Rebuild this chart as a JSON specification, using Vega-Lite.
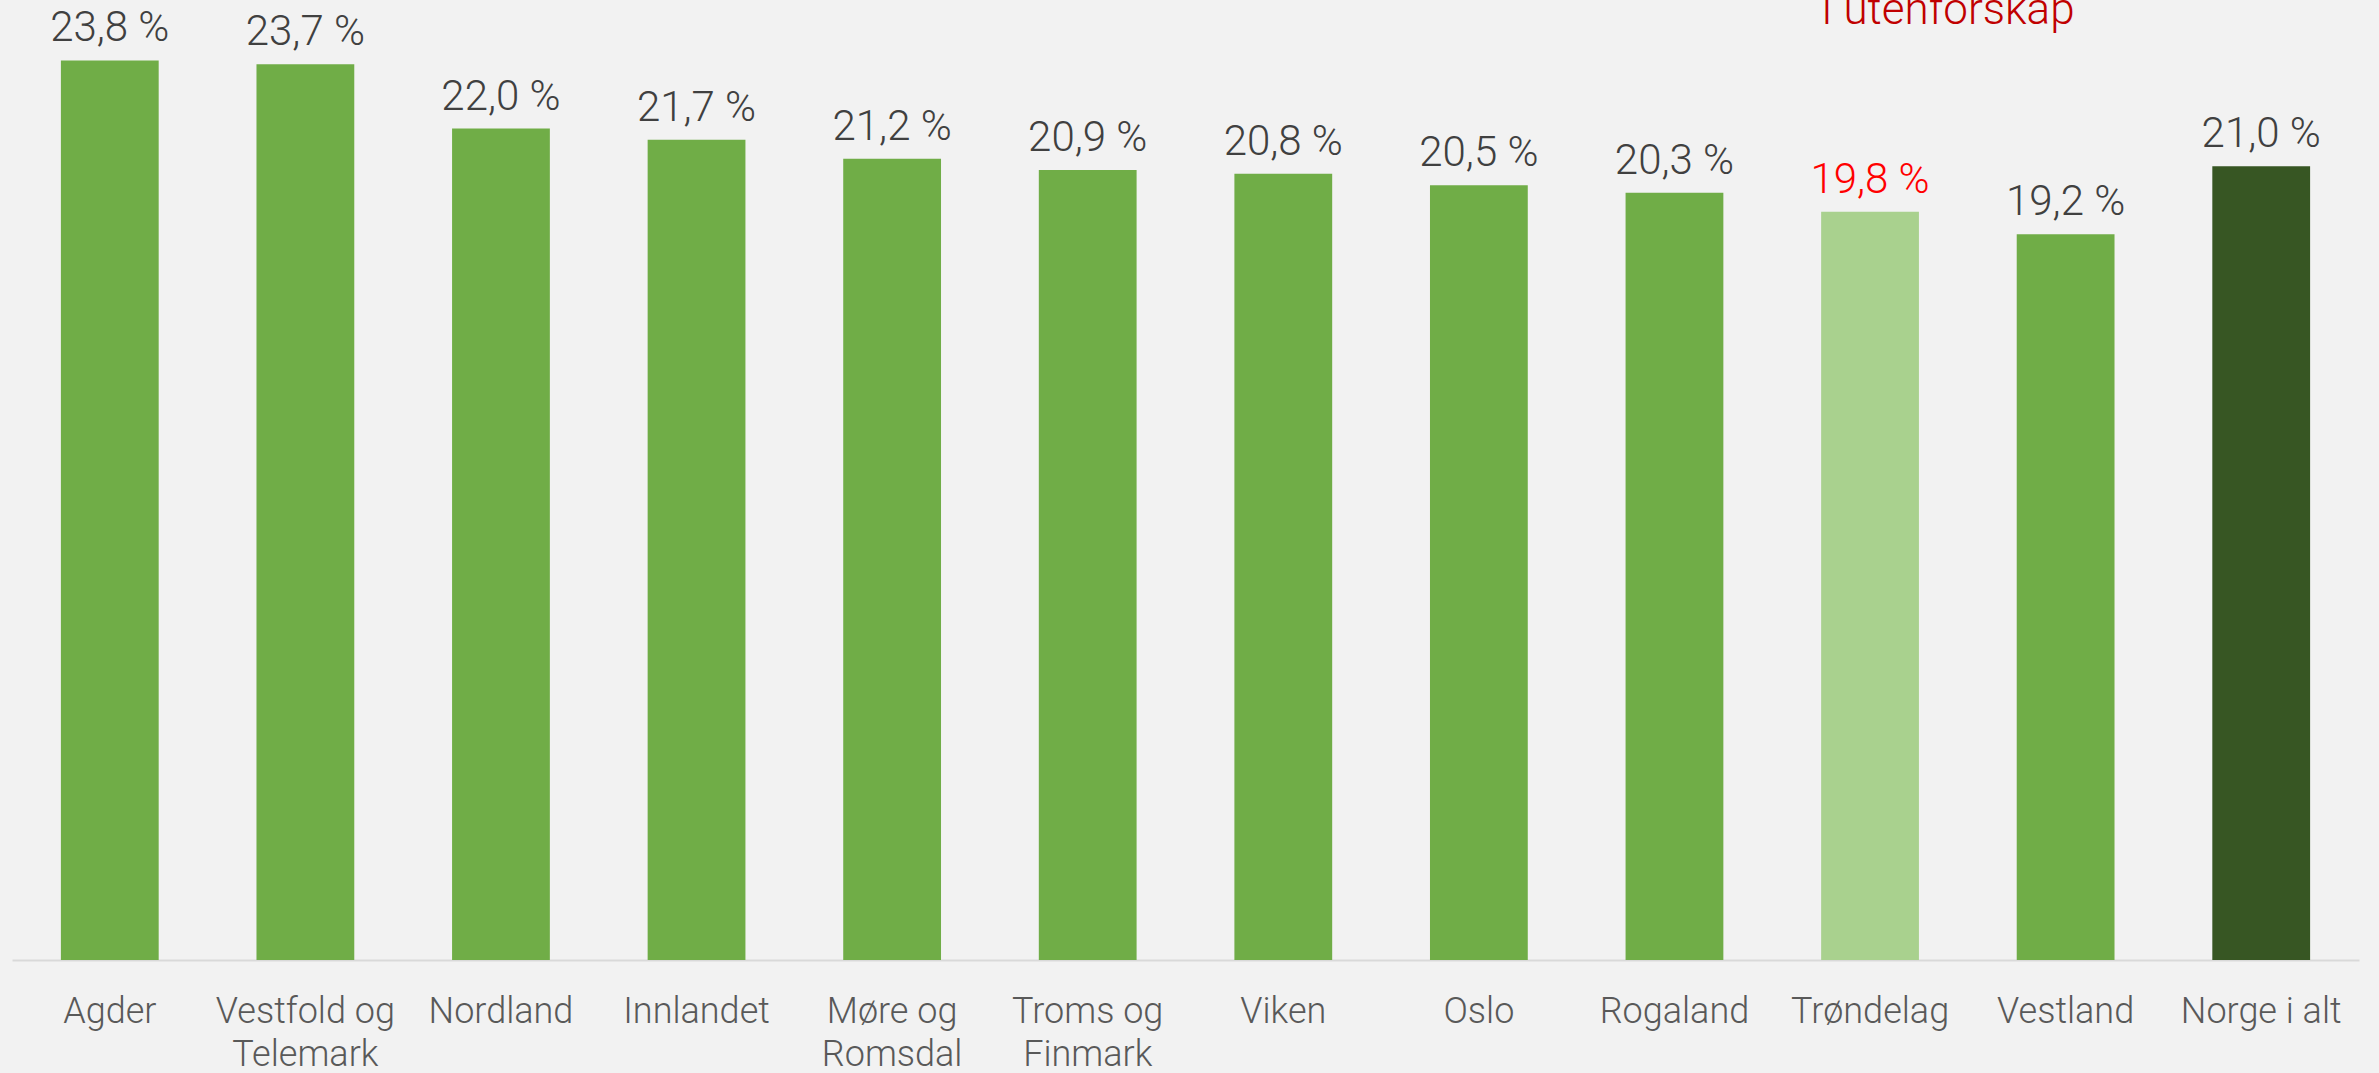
{
  "$schema": "https://vega.github.io/schema/vega-lite/v6.json",
  "width": 2347,
  "height": 960,
  "autosize": {"type": "none"},
  "padding": {"left": 12, "top": 0, "right": 20, "bottom": 113},
  "background": "#F2F2F2",
  "config": {"view": {"stroke": null}, "font": "Roboto"},
  "data": {
    "values": [
      {"region": "Agder", "value": 23.8},
      {"region": "Vestfold og Telemark", "value": 23.7},
      {"region": "Nordland", "value": 22.0},
      {"region": "Innlandet", "value": 21.7},
      {"region": "Møre og Romsdal", "value": 21.2},
      {"region": "Troms og Finmark", "value": 20.9},
      {"region": "Viken", "value": 20.8},
      {"region": "Oslo", "value": 20.5},
      {"region": "Rogaland", "value": 20.3},
      {"region": "Trøndelag", "value": 19.8},
      {"region": "Vestland", "value": 19.2},
      {"region": "Norge i alt", "value": 21.0}
    ]
  },
  "encoding": {
    "x": {
      "field": "region",
      "type": "nominal",
      "sort": null,
      "scale": {"paddingInner": 0.5, "paddingOuter": 0.25},
      "axis": {
        "title": null,
        "labelAngle": 0,
        "labelFont": "Roboto",
        "labelFontSize": 36,
        "labelFontWeight": 300,
        "labelColor": "#595959",
        "labelPadding": 34,
        "labelLineHeight": 43,
        "labelLimit": 0,
        "labelOverlap": false,
        "ticks": false,
        "tickSize": 0,
        "domainColor": "#D9D9D9",
        "domainWidth": 2,
        "labelExpr": "datum.label == 'Vestfold og Telemark' ? ['Vestfold og', 'Telemark'] : datum.label == 'Møre og Romsdal' ? ['Møre og', 'Romsdal'] : datum.label == 'Troms og Finmark' ? ['Troms og', 'Finmark'] : datum.label"
      }
    }
  },
  "layer": [
    {
      "mark": {"type": "bar"},
      "encoding": {
        "y": {"field": "value", "type": "quantitative", "scale": {"domain": [0, 25.4], "nice": false}, "axis": null},
        "color": {
          "condition": [
            {"test": "datum.region === 'Trøndelag'", "value": "#A9D18E"},
            {"test": "datum.region === 'Norge i alt'", "value": "#375623"}
          ],
          "value": "#70AD47"
        }
      }
    },
    {
      "transform": [
        {"calculate": "replace(format(datum.value, '.1f'), '.', ',') + ' %'", "as": "label"}
      ],
      "mark": {"type": "text", "dy": -19, "fontSize": 42, "fontWeight": 300, "baseline": "alphabetic", "font": "Roboto"},
      "encoding": {
        "y": {"field": "value", "type": "quantitative", "scale": {"domain": [0, 25.4], "nice": false}, "axis": null},
        "text": {"field": "label"},
        "color": {
          "condition": {"test": "datum.region === 'Trøndelag'", "value": "#FF0000"},
          "value": "#404040"
        }
      }
    },
    {
      "data": {"values": [{}]},
      "mark": {"type": "text", "text": "I utenforskap", "fontSize": 44, "fontWeight": 300, "font": "Roboto", "color": "#C00000", "align": "right", "baseline": "alphabetic", "dx": 9, "clip": false},
      "encoding": {
        "x": {"datum": "Vestland"},
        "y": {"datum": 24.77}
      }
    }
  ]
}
